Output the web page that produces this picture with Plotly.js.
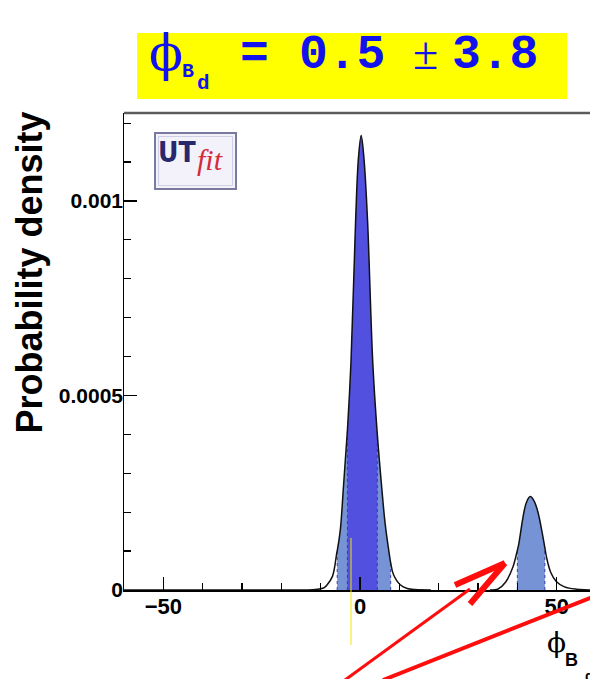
<!DOCTYPE html>
<html>
<head>
<meta charset="utf-8">
<script src="https://cdn.plot.ly/plotly-3.0.1.min.js"></script>
<style>
  html, body { margin: 0; padding: 0; overflow: hidden; background: #ffffff; }
  #chart, #decor { position: absolute; left: 0; top: 0; width: 600px; height: 679px; }
  #decor { pointer-events: none; }
</style>
</head>
<body>
<div id="chart"></div>
<div id="decor"></div>
<script>
// Posterior density of phi_Bd (degrees): main solution near 0 and a second one near 43.
const phiMain  = [-60, -14, -12, -10, -9, -8.4, -7, -5.9, -5.8, -5, -4.2, -3.2, -2.3, -1.1, -0.4, 0.3, 1.0, 1.9, 3.25, 4.4, 5.5, 6.4, 7.4, 7.8, 8.5, 10.3, 12, 14, 18];
const densMain = [0, 0, 0.0000005, 0.000003, 0.000007, 0.0000129, 0.000035, 0.0000954, 0.0001, 0.000155, 0.000266, 0.00041, 0.000584, 0.000954, 0.00111, 0.001168, 0.00111, 0.000954, 0.000584, 0.0004, 0.000266, 0.00017, 0.0000954, 0.00007, 0.00004, 0.0000129, 0.000004, 0.000001, 0];

const phiSecond  = [33, 35, 37, 38.9, 40, 40.4, 41.4, 42.3, 43.3, 44.3, 45.25, 46.5, 47, 47.4, 48.5, 49.9, 52, 55, 60];
const densSecond = [0, 0.000002, 0.00002, 0.00006, 0.000102, 0.00012, 0.000185, 0.000225, 0.00024, 0.000228, 0.0002, 0.000137, 0.000108, 0.000085, 0.000045, 0.000022, 0.000008, 0.000002, 0];

// Probability intervals (degrees)
const band95 = [[-5.8, 7.8], [40, 47]];
const band68 = [[-3.2, 4.4]];

// Axis ticks
const xTickStep = 50;
const xMinorStep = 10;
const yRange = [0, 0.001226];
const yTicks = [0, 0.0005, 0.001];
const yTickText = ['0', '0.0005', '0.001'];

const titleValue = '0.5';
const titleError = '3.8';

// ---- geometry ----
const W = 600, H = 679;
const M = { l: 124, r: 4, t: 113, b: 89 };
const plotW = W - M.l - M.r, plotH = H - M.t - M.b;
const px = x => (x - M.l) / plotW;          // page pixel -> paper x
const py = y => (H - M.b - y) / plotH;      // page pixel -> paper y

// ---- density plot ----
const phiAll = phiMain.concat(phiSecond);
const densAll = densMain.concat(densSecond);
function slice(lo, hi) {
  const xs = [], ys = [];
  phiAll.forEach((v, i) => { if (v >= lo && v <= hi) { xs.push(v); ys.push(densAll[i]); } });
  return { xs, ys };
}
function valueAt(x) { return densAll[phiAll.indexOf(x)]; }

const LIGHT = 'rgb(118,147,214)';
const DARK = 'rgb(82,80,222)';
const traces = [];
band95.forEach(b => {
  const s = slice(b[0], b[1]);
  traces.push({ x: s.xs, y: s.ys, type: 'scatter', mode: 'lines', fill: 'tozeroy', fillcolor: LIGHT,
    line: { width: 0, shape: 'spline' }, hoverinfo: 'skip' });
});
band68.forEach(b => {
  const s = slice(b[0], b[1]);
  traces.push({ x: s.xs, y: s.ys, type: 'scatter', mode: 'lines', fill: 'tozeroy', fillcolor: DARK,
    line: { width: 0, shape: 'spline' }, hoverinfo: 'skip' });
});
// dotted interval edges
band95.concat(band68).forEach(b => b.forEach(edge => {
  traces.push({ x: [edge, edge], y: [0, valueAt(edge)], type: 'scatter', mode: 'lines',
    line: { color: 'rgb(55,60,165)', width: 1, dash: 'dot' }, hoverinfo: 'skip' });
}));
// density curve
traces.push({ x: phiMain, y: densMain, type: 'scatter', mode: 'lines',
  line: { color: '#111', width: 1.5, shape: 'spline' }, hoverinfo: 'skip' });
traces.push({ x: phiSecond, y: densSecond, type: 'scatter', mode: 'lines',
  line: { color: '#111', width: 1.5, shape: 'spline' }, hoverinfo: 'skip' });

const sans = 'Liberation Sans';
Plotly.newPlot('chart', traces, {
  width: W, height: H, margin: M, showlegend: false,
  xaxis: {
    range: [-60, 60], tickmode: 'linear', tick0: 0, dtick: xTickStep,
    ticks: 'inside', ticklen: 13, tickwidth: 1.5, tickcolor: '#000',
    showline: true, linecolor: '#000', linewidth: 1.5,
    showgrid: false, zeroline: false, ticklabelstandoff: -4,
    tickfont: { family: sans, size: 22, color: '#000', weight: 'bold' },
    minor: { dtick: xMinorStep, tick0: 0, ticks: 'inside', ticklen: 7, tickwidth: 1.2, tickcolor: '#000', showgrid: false }
  },
  yaxis: {
    range: yRange, tickvals: yTicks, ticktext: yTickText, showticklabels: false,
    ticks: 'inside', ticklen: 13, tickwidth: 1.5, tickcolor: '#000',
    showline: true, linecolor: '#000', linewidth: 1.5,
    showgrid: false, zeroline: false,
    minor: { dtick: 0.0001, tick0: 0, ticks: 'inside', ticklen: 7, tickwidth: 1.2, tickcolor: '#000', showgrid: false }
  }
}, { displayModeBar: false, staticPlot: true });

// ---- y labels, headline box, titles, logo and markers (transparent layer on top) ----
const BLUE = '#1212ee';
const mono = 'Liberation Mono';
const serif = 'DejaVu Serif';
function ann(text, x, y, font, extra) {
  return Object.assign({ text, xref: 'paper', yref: 'paper', x: px(x), y: py(y),
    xanchor: 'center', yanchor: 'middle', showarrow: false, font }, extra || {});
}
const annotations = [
  ann('\u03D5', 166, 53, { family: serif, size: 50, color: BLUE }),
  ann('B', 188, 71, { family: mono, size: 20, color: BLUE, weight: 'bold' }),
  ann('d', 203, 83, { family: mono, size: 21, color: BLUE, weight: 'bold' }),
  ann('=', 254, 55, { family: mono, size: 48, color: BLUE, weight: 'bold' }),
  ann(titleValue, 341.5, 55, { family: mono, size: 48, color: BLUE, weight: 'bold' }),
  ann('\u00B1', 425.5, 54, { family: 'Liberation Serif', size: 46, color: BLUE }),
  ann(titleError, 495, 55, { family: mono, size: 48, color: BLUE, weight: 'bold' }),
  ann('Probability density', 28.5, 273, { family: sans, size: 36, color: '#000', weight: 'bold' }, { textangle: -90 }),
  ann('\u03D5', 556, 642, { family: serif, size: 28, color: '#000' }),
  ann('B', 571, 660, { family: sans, size: 18, color: '#000', weight: 'bold' }),
  ann('d', 589, 676, { family: sans, size: 14, color: '#000', weight: 'bold' }),
  ann('UT', 177, 152, { family: 'DejaVu Sans Condensed, Liberation Sans', size: 28, color: '#28286e', weight: 'bold' }),
  ann('fit', 210, 159, { family: 'Liberation Serif', size: 30, color: '#d42a3a', style: 'italic' })
];
const RED = '#ff0d0d';
const shapes = [
  { type: 'rect', xref: 'paper', yref: 'paper', x0: px(137), x1: px(567), y0: py(99), y1: py(33),
    fillcolor: '#ffff00', line: { width: 0 } },
  { type: 'line', xref: 'paper', yref: 'paper', x0: px(124), x1: px(600), y0: py(113), y1: py(113),
    line: { color: '#5c5c5c', width: 2.5 } },
  { type: 'rect', xref: 'paper', yref: 'paper', x0: px(155), x1: px(236), y0: py(189), y1: py(133),
    fillcolor: '#f3f1fa', line: { color: '#7a7a9e', width: 2 }, layer: 'below' },
  { type: 'rect', xref: 'paper', yref: 'paper', x0: px(158.5), x1: px(232.5), y0: py(185.5), y1: py(136.5),
    fillcolor: 'rgba(0,0,0,0)', line: { color: '#cfcfe4', width: 1 }, layer: 'below' },
  { type: 'line', xref: 'paper', yref: 'paper', x0: px(351), x1: px(351), y0: py(538), y1: py(645),
    line: { color: '#f2e600', width: 1 } },
  // red arrow pointing at the second solution
  { type: 'line', xref: 'paper', yref: 'paper', x0: px(345), y0: py(680), x1: px(470), y1: py(589),
    line: { color: RED, width: 3 } },
  { type: 'line', xref: 'paper', yref: 'paper', x0: px(455), y0: py(585), x1: px(505), y1: py(563),
    line: { color: RED, width: 6 } },
  { type: 'line', xref: 'paper', yref: 'paper', x0: px(470), y0: py(604), x1: px(505), y1: py(563),
    line: { color: RED, width: 6 } },
  // second red line
  { type: 'line', xref: 'paper', yref: 'paper', x0: px(383), y0: py(680), x1: px(600), y1: py(594),
    line: { color: RED, width: 4 } }
];
Plotly.newPlot('decor', [], {
  width: W, height: H, margin: M, showlegend: false,
  paper_bgcolor: 'rgba(0,0,0,0)', plot_bgcolor: 'rgba(0,0,0,0)',
  xaxis: { visible: false, range: [-60, 60] },
  yaxis: {
    range: yRange, tickvals: yTicks, ticktext: yTickText, ticks: '',
    showline: false, showgrid: false, zeroline: false,
    tickfont: { family: sans, size: 21, color: '#000', weight: 'bold' }
  },
  annotations, shapes
}, { displayModeBar: false, staticPlot: true });
</script>
</body>
</html>
